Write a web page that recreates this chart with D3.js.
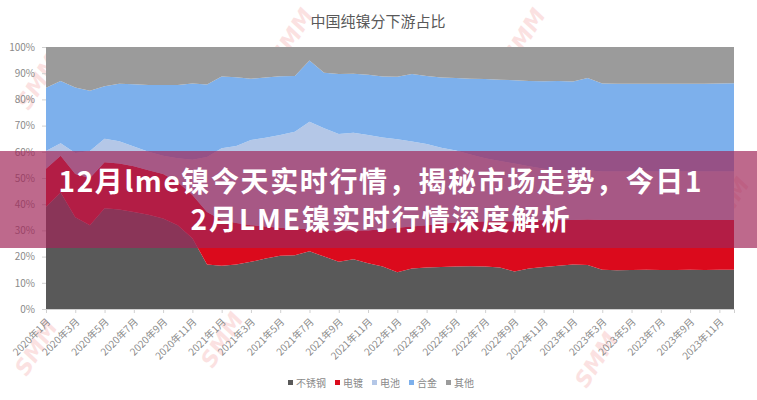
<!DOCTYPE html>
<html><head><meta charset="utf-8">
<script src="https://cdn.jsdelivr.net/npm/d3@7"></script>
<style>body{margin:0;background:#fff}svg{display:block}</style>
</head><body>
<svg id="c" width="757" height="400"></svg>
<script>
const chartTitle = "中国纯镍分下游占比";
const bannerLines = ["12月lme镍今天实时行情，揭秘市场走势，今日1", "2月LME镍实时行情深度解析"];
const categories = [
 "2020年1月","2020年2月","2020年3月","2020年4月","2020年5月","2020年6月","2020年7月","2020年8月","2020年9月","2020年10月","2020年11月","2020年12月",
 "2021年1月","2021年2月","2021年3月","2021年4月","2021年5月","2021年6月","2021年7月","2021年8月","2021年9月","2021年10月","2021年11月","2021年12月",
 "2022年1月","2022年2月","2022年3月","2022年4月","2022年5月","2022年6月","2022年7月","2022年8月","2022年9月","2022年10月","2022年11月","2022年12月",
 "2023年1月","2023年2月","2023年3月","2023年4月","2023年5月","2023年6月","2023年7月","2023年8月","2023年9月","2023年10月","2023年11月","2023年12月"];
const seriesNames = ["不锈钢","电镀","电池","合金","其他"];
const stainless = [39,44.5,35,32,38.5,38,37,36,34.5,32,27,17,16.5,17,18,19.3,20.3,20.5,22,20,18,19,17.5,16.2,14,15.5,15.8,16,16.2,16.3,16.2,15.8,14.3,15.5,16,16.5,17,16.8,15,14.8,14.9,15,14.9,14.9,15,14.9,15,15];
const plating = [14.5,14,16.5,18,17.5,17.5,17.5,17,17,16.5,16.5,20,17.5,15.8,14,12.2,10.7,10,8.5,10,12,11,12.5,14.3,17,16,16.2,16.5,16.8,16.7,17.3,17.7,19.2,18.3,18,17.5,17,17.4,19,19.2,19.1,19,19.1,19.1,19,19.1,19,19];
const battery = [6.8,4.8,8,10.3,9,8.5,7.5,7,7,9,13.5,21,27.4,29.4,32.5,33.9,35.4,37.2,41,39,36.8,37.3,36.4,35,33.8,32.4,31,29,27.5,26,24,23,22,20.7,19.5,19,18.8,18.8,18.5,18.5,18.5,18.5,18.5,18.5,18.5,18.5,18.5,18.5];
const alloy = [24.1,23.7,25,23,20,22,23.8,25.5,27,28,29.1,27.7,27.3,26.3,23.4,23,22.4,21.2,23.3,21.2,22.9,22.5,23,23.2,23.8,25.8,25.9,26.9,27.7,28.9,30.3,31,31.8,32.5,33.4,34,34,35.2,33.6,33.5,33.5,33.5,33.5,33.5,33.5,33.5,33.6,33.7];
const other = [15.6,13,15.5,16.7,15,14,14.2,14.5,14.5,14.5,13.9,14.3,11.3,11.5,12.1,11.6,11.2,11.1,5.2,9.8,10.3,10.2,10.6,11.3,11.4,10.3,11.1,11.6,11.8,12.1,12.2,12.5,12.7,13,13.1,13,13.2,11.8,13.9,14,14,14,14,14,14,14,13.9,13.8];
const yTicks = [0,10,20,30,40,50,60,70,80,90,100];
const xTickLabels = categories.filter((d,i)=>i%2===0);

const colors = ["#595959","#db0a1c","#b4c7e7","#7db0ec","#9b9b9b"];
const FONT = "'Noto Sans CJK SC','Noto Sans',sans-serif";
const svg = d3.select("#c");
const W = 757, H = 400;
const m = {left:46, right:23, top:47, bottom:91};

// watermarks (faint), kept fully inside the canvas
const wm = [[38,82],[292,36],[524,36],[36,348],[222,340],[596,360],[728,205]];
svg.append("g").selectAll("text").data(wm).join("text")
  .attr("transform", d=>`translate(${d[0]},${d[1]}) rotate(-58)`)
  .attr("text-anchor","middle").attr("dy","0.35em")
  .style("font-family","'DejaVu Sans',sans-serif").style("font-weight","bold").style("font-style","italic")
  .style("font-size","22px").style("fill","#e63c3c").style("opacity",0.15)
  .text("SMM");

svg.append("text").attr("x",378).attr("y",27).attr("text-anchor","middle")
  .style("font-family",FONT).style("font-size","15px").style("fill","#595959").text(chartTitle);

const x = d3.scalePoint().domain(categories).range([m.left, W-m.right]);
const y = d3.scaleLinear().domain([0,100]).range([H-m.bottom, m.top]).clamp(true);

const rows = categories.map((c,i)=>({cat:c,"不锈钢":stainless[i],"电镀":plating[i],"电池":battery[i],"合金":alloy[i],"其他":other[i]}));
const layers = d3.stack().keys(seriesNames)(rows);
const area = d3.area().x(d=>x(d.data.cat)).y0(d=>y(d[0])).y1(d=>y(d[1]));
svg.append("g").selectAll("path").data(layers).join("path")
  .attr("d",area).attr("fill",(d,i)=>colors[i]);

// y axis
const ya = svg.append("g").attr("transform",`translate(${m.left},0)`)
  .call(d3.axisLeft(y).tickValues(yTicks).tickFormat(d=>d+"%").tickSize(4).tickPadding(7));
ya.select(".domain").remove();
ya.selectAll("line").attr("stroke","#d0d0d0");
ya.selectAll("text").style("font-family",FONT).style("font-size","10px").style("fill","#8a8a8a");

// x axis
const xa = svg.append("g").attr("transform",`translate(0,${H-m.bottom})`)
  .call(d3.axisBottom(x).tickValues(xTickLabels).tickSize(4));
xa.select(".domain").attr("stroke","#d0d0d0");
xa.selectAll("line").attr("stroke","#d0d0d0");
xa.selectAll("text").attr("x",0).attr("y",0).attr("dy","0.35em")
  .attr("transform","translate(2,11) rotate(-45)")
  .style("text-anchor","end").style("font-family",FONT).style("font-size","10px").style("fill","#8a8a8a");

// legend
const lg = svg.append("g");
let lx = 288;
seriesNames.forEach((n,i)=>{
  const g = lg.append("g").attr("transform",`translate(${lx},383)`);
  g.append("rect").attr("x",0).attr("y",-3).attr("width",5).attr("height",5).attr("fill",colors[i]);
  const t = g.append("text").attr("x",8).attr("y",0).attr("dy","0.35em")
    .style("font-family",FONT).style("font-size","10px").style("fill","#8a8a8a").text(n);
  lx += 8 + t.node().getComputedTextLength() + 9;
});

// banner overlay
svg.append("rect").attr("x",0).attr("y",151).attr("width",W).attr("height",97)
  .attr("fill","rgb(161,38,88)").attr("opacity",0.69);
const bl = [[192,643],[229.5,379]];
bannerLines.forEach((s,i)=>{
  svg.append("text").attr("x",380).attr("y",bl[i][0]).attr("text-anchor","middle")
    .attr("textLength",bl[i][1]).attr("lengthAdjust","spacing")
    .style("font-family",FONT).style("font-weight","bold").style("font-size","28px").style("fill","#fff")
    .text(s);
});
</script>
</body></html>
